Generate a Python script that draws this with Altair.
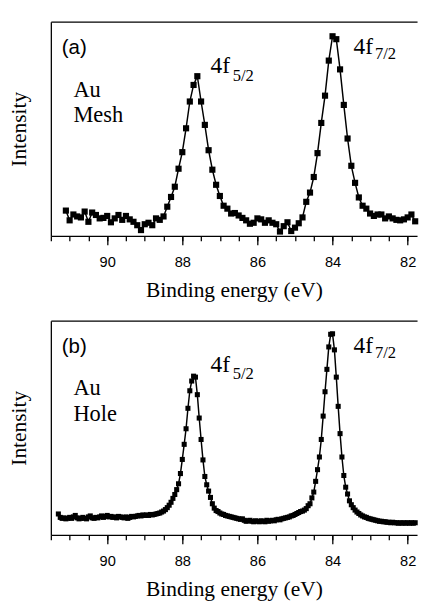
import altair as alt
import pandas as pd

# ---------------- data ----------------
# Panel (a) Au Mesh: one point every 0.1 eV from 91.1 eV down to 81.8 eV
mesh_start = 91.1
mesh_step = 0.1
mesh_intensity = [
    26, 16, 22, 20, 19, 25, 14.5, 24, 21.5, 18,          # 91.1 .. 90.2
    18.5, 20.5, 14, 18, 21.5, 16.5, 20.5, 17, 14.5, 11,   # 90.1 .. 89.2
    6, 12, 13.5, 11, 18, 16.5, 20, 30, 40, 50.5,          # 89.1 .. 88.2
    69, 86, 110.5, 138, 155, 164, 138, 114, 88, 68,       # 88.1 .. 87.2
    52.5, 41, 31, 28, 23, 23.5, 21, 18.5, 16, 12.5,       # 87.1 .. 86.2
    13.5, 18, 17, 13.5, 16, 13.5, 12, 4.5, 10, 14,        # 86.1 .. 85.2
    5, 8.5, 13, 19, 35, 44.5, 60.5, 85, 116, 144,         # 85.1 .. 84.2
    180, 205, 202, 171, 134.5, 100, 72, 54.5, 39.5, 31,   # 84.1 .. 83.2
    28, 23, 20.5, 22, 22, 18, 20, 18, 16.5, 16,           # 83.1 .. 82.2
    17, 19, 22, 15,                                       # 82.1 .. 81.8
]

# Panel (b) Au Hole: one point every 0.05 eV from 91.30 eV down to 81.80 eV
hole_start = 91.30
hole_step = 0.05
hole_intensity = [
    21.5, 18, 17, 17.5, 16.5, 17, 18, 17, 18.5, 20,       # 91.30 .. 90.85
    17.5, 16.5, 17, 18, 17, 16.5, 18.5, 19.5, 17.5, 17,   # 90.80 .. 90.35
    18, 17.5, 18.5, 19.5, 18, 19, 20, 18.5, 19, 18,       # 90.30 .. 89.85
    18.5, 17.5, 19, 18.5, 18, 17.5, 18.5, 17, 18, 19,     # 89.80 .. 89.35
    18.5, 19, 19.5, 20, 19.5, 20.5, 20, 20.5, 20, 21,     # 89.30 .. 88.85
    20.5, 21, 21.5, 22, 22.5, 23.5, 24.5, 26, 28, 30.5,   # 88.80 .. 88.35
    33.5, 37.5, 41.5, 46.5, 52.5, 63, 77.5, 93, 109, 130, # 88.30 .. 87.85
    148, 158, 163, 162, 144, 120, 98, 77, 60, 51.5,       # 87.80 .. 87.35
    45, 38.5, 32, 27.5, 25, 24, 22.5, 21.5, 21, 20,       # 87.30 .. 86.85
    19.5, 19, 18.5, 18, 17.5, 17, 16.5, 16, 16.5, 15,     # 86.80 .. 86.35
    14, 14.5, 15, 14, 13.5, 14.5, 14, 13.5, 14.5, 14,     # 86.30 .. 85.85
    13.5, 15, 14, 14.5, 15, 14.5, 15.5, 16, 15.5, 16.5,   # 85.80 .. 85.35
    17, 17.5, 18, 18.5, 19.5, 20, 21, 22, 23, 24,         # 85.30 .. 84.85
    24.5, 25.5, 27, 30, 32, 38, 44, 55, 67, 80,           # 84.80 .. 84.35
    98, 122, 147, 170, 193, 206, 206.5, 190, 162, 132,    # 84.30 .. 83.85
    104, 80, 61, 49, 42, 35, 31, 28, 25.5, 23.5,          # 83.80 .. 83.35
    22, 20.5, 19.5, 18.5, 18, 17, 16.5, 16, 15.5, 15,     # 83.30 .. 82.85
    14.5, 14, 14, 13.5, 13.5, 13, 13, 12.5, 13, 12.5,     # 82.80 .. 82.35
    12.5, 12, 12.5, 12, 12.5, 12, 12.5, 12, 12.5, 12,     # 82.30 .. 81.85
    12.5,                                                 # 81.80
]

# Annotations (panel, text, energy, intensity, font size, font family)
ann_panel = ["a", "a", "a", "a", "a", "a", "a", "b", "b", "b", "b", "b", "b", "b"]
ann_text = ["(a)", "Au", "Mesh", "4f", "5/2", "4f", "7/2",
            "(b)", "Au", "Hole", "4f", "5/2", "4f", "7/2"]
ann_energy = [91.21, 90.90, 90.90, 87.25, 86.66, 83.44, 82.87,
              91.21, 90.90, 90.90, 87.25, 86.66, 83.44, 82.87]
ann_intensity = [186.5, 143, 117, 167, 159.5, 187, 182,
                 186.5, 144, 117, 167, 160, 187, 182]
ann_size = [21, 23, 23, 24, 17, 24, 17, 21, 23, 23, 24, 17, 24, 17]
ann_family = ["sans", "serif", "serif", "serif", "serif", "serif", "serif",
              "sans", "serif", "serif", "serif", "serif", "serif", "serif"]

X_DOMAIN = [91.5, 81.75]
Y_DOMAIN = [0, 220]
MAJOR_TICKS = [90, 88, 86, 84, 82]
MINOR_TICKS = [91.5, 91.0, 90.5, 90.0, 89.5, 89.0, 88.5, 88.0, 87.5, 87.0,
               86.5, 86.0, 85.5, 85.0, 84.5, 84.0, 83.5, 83.0, 82.5, 82.0]


def spectrum(start, step, values):
    energies = [round(start - i * step, 2) for i in range(len(values))]
    return pd.DataFrame({"energy": energies, "intensity": values})


mesh_df = spectrum(mesh_start, mesh_step, mesh_intensity)
hole_df = spectrum(hole_start, hole_step, hole_intensity)
assert abs(mesh_df.energy.iloc[-1] - 81.8) < 1e-6
assert abs(hole_df.energy.iloc[-1] - 81.8) < 1e-6

ann_df = pd.DataFrame({
    "panel": ann_panel, "text": ann_text, "energy": ann_energy,
    "intensity": ann_intensity, "size": ann_size, "family": ann_family,
})


def y_axis():
    return alt.Axis(title="Intensity", labels=False, ticks=False,
                    grid=False, domain=True, titlePadding=21)


def panel(df, key, marker_size):
    xs = alt.Scale(domain=X_DOMAIN, nice=False, zero=False)
    ys = alt.Scale(domain=Y_DOMAIN, nice=False, zero=False)
    texts = ann_df[ann_df.panel == key]

    line = alt.Chart(df).mark_line(color="black", strokeWidth=1.5).encode(
        x=alt.X("energy:Q", scale=xs,
                axis=alt.Axis(orient="bottom", values=MAJOR_TICKS, tickSize=9,
                              labelPadding=10, format="d", grid=False,
                              title="Binding energy (eV)", titlePadding=11)),
        y=alt.Y("intensity:Q", scale=ys, axis=y_axis()),
    )
    pts = alt.Chart(df).mark_square(color="black", size=marker_size, opacity=1).encode(
        x=alt.X("energy:Q", scale=xs,
                axis=alt.Axis(orient="bottom", values=MINOR_TICKS, tickSize=5,
                              labels=False, title=None, grid=False, domain=False)),
        y=alt.Y("intensity:Q", scale=ys, axis=y_axis()),
    )
    sans = alt.Chart(texts[texts.family == "sans"]).mark_text(
        font="Liberation Sans", align="left", baseline="alphabetic", color="black"
    ).encode(
        x=alt.X("energy:Q", scale=xs,
                axis=alt.Axis(orient="top", labels=False, ticks=False, title=None,
                              grid=False, domain=True)),
        y=alt.Y("intensity:Q", scale=ys, axis=y_axis()),
        text="text:N",
        size=alt.Size("size:Q", scale=None),
    )
    serif = alt.Chart(texts[texts.family == "serif"]).mark_text(
        font="Liberation Serif", align="left", baseline="alphabetic", color="black"
    ).encode(
        x=alt.X("energy:Q", scale=xs, axis=None),
        y=alt.Y("intensity:Q", scale=ys, axis=y_axis()),
        text="text:N",
        size=alt.Size("size:Q", scale=None),
    )
    return alt.layer(line, pts, sans, serif).resolve_axis(x="independent").properties(
        width=376, height=220
    )


chart = alt.vconcat(
    panel(mesh_df, "a", 40),
    panel(hole_df, "b", 27),
    spacing=21,
).properties(
    padding={"left": 0, "top": 6, "right": 0, "bottom": 0}
).configure_view(stroke=None).configure_axis(
    domainColor="black", domainWidth=1.3, tickColor="black", tickWidth=1.3,
    labelFont="Liberation Sans", labelFontSize=15, labelColor="black",
    titleFont="Liberation Serif", titleFontSize=22, titleFontWeight="normal",
    titleColor="black",
)

chart.save("out.html", embed_options={"renderer": "svg", "actions": False})
